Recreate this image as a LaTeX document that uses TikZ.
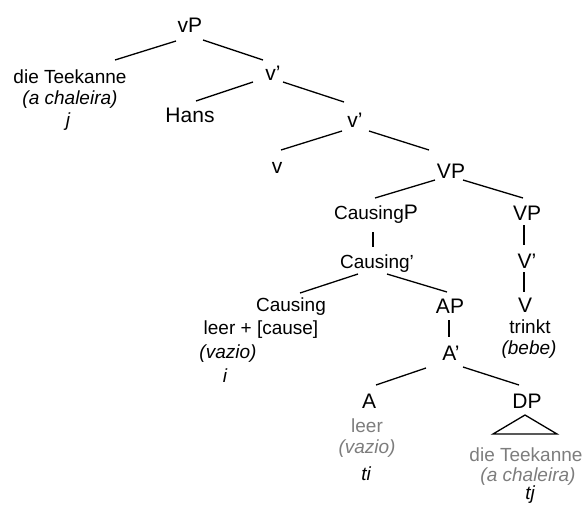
\documentclass[tikz,border=0pt]{standalone}
\usepackage{fontspec}
\setmainfont{Liberation Sans}
\usetikzlibrary{calc}
\definecolor{gtxt}{RGB}{125,125,125}
\tikzset{
  cat/.style={anchor=base,inner sep=0pt,font=\fontsize{21}{24}\selectfont},
  wrd/.style={anchor=base,inner sep=0pt,font=\fontsize{19}{22}\selectfont},
  gwrd/.style={wrd,text=gtxt},
  br/.style={line width=1.3pt,black},
}
\newcommand{\smc}{\fontsize{19}{22}\selectfont}
\begin{document}
\begin{tikzpicture}[x=1pt,y=-1pt]
\useasboundingbox (0,0) rectangle (586,504);
\node[cat] (vP) at (190,32) {vP};
\node[wrd] (dT) at (70,83) {die Teekanne};
\node[wrd] (dTa) at (70,104) {\itshape (a chaleira)};
\node[wrd] (dTj) at (68,126) {\itshape j};
\node[cat] (v1) at (273,80) {v’};
\node[cat] (Hans) at (190,122) {Hans};
\node[cat] (v2) at (355,127) {v’};
\node[cat] (v) at (277,173) {v};
\node[cat] (VP) at (451,178) {VP};
\node[cat] (CP) at (376,219) {{\smc Causing}P};
\node[cat] (VP2) at (527,220) {VP};
\node[wrd] (Cb) at (377,268) {Causing’};
\node[cat] (Vb) at (527,268) {V’};
\node[wrd] (Cs) at (291,311) {Causing};
\node[cat] (AP) at (450,313) {AP};
\node[cat] (V) at (525,312) {V};
\node[wrd] (lc) at (261,334) {leer + [cause]};
\node[wrd] (tr) at (530,333) {trinkt};
\node[wrd] (vz) at (228,358) {\itshape (vazio)};
\node[wrd] (ii) at (225,382) {\itshape i};
\node[wrd] (bebe) at (529,354) {\itshape (bebe)};
\node[cat] (Ab) at (451,360) {A’};
\node[cat] (A) at (369,408) {A};
\node[cat] (DP) at (527,408) {DP};
\node[gwrd] (leer) at (367,432) {leer};
\node[gwrd] (vz2) at (367,453) {\itshape (vazio)};
\node[wrd] (ti) at (366,480) {\itshape ti};
\node[gwrd] (dT2) at (526,461) {die Teekanne};
\node[gwrd] (ac2) at (528,481) {\itshape (a chaleira)};
\node[wrd] (tj) at (530,499) {\itshape tj};

\draw[br] ($(vP.base)+(-14,9)$) -- ($(dT.base)+(45,-23)$);
\draw[br] ($(vP.base)+(13,8)$) -- ($(v1.base)+(-10,-20)$);
\draw[br] ($(v1.base)+(-20,2)$) -- ($(Hans.base)+(6,-21)$);
\draw[br] ($(v1.base)+(10,2)$) -- ($(v2.base)+(-11,-25)$);
\draw[br] ($(v2.base)+(-13,4)$) -- ($(v.base)+(4,-23)$);
\draw[br] ($(v2.base)+(14,4)$) -- ($(VP.base)+(-22,-28)$);
\draw[br] ($(VP.base)+(-16,2)$) -- ($(CP.base)+(-1,-21)$);
\draw[br] ($(VP.base)+(12,2)$) -- ($(VP2.base)+(-4,-22)$);
\draw[br] ($(CP.base)+(-3,13)$) -- ($(Cb.base)+(-4,-21)$);
\draw[br] ($(Cb.base)+(-19,6)$) -- ($(Cs.base)+(9,-18)$);
\draw[br] ($(Cb.base)+(10,6)$) -- ($(AP.base)+(-3,-21)$);
\draw[br] ($(VP2.base)+(-3,5)$) -- ($(Vb.base)+(-3,-23)$);
\draw[br] ($(Vb.base)+(-3,4)$) -- ($(V.base)+(-1,-20)$);
\draw[br] ($(AP.base)+(-1,7)$) -- ($(Ab.base)+(-2,-23)$);
\draw[br] ($(Ab.base)+(-25,8)$) -- ($(A.base)+(7,-23)$);
\draw[br] ($(Ab.base)+(12,7)$) -- ($(DP.base)+(-8,-23)$);
\draw[br,line join=miter] ($(DP.base)+(-2,7)$) -- ($(DP.base)+(-34,26)$) -- ($(DP.base)+(30,26)$) -- cycle;
\end{tikzpicture}
\end{document}
